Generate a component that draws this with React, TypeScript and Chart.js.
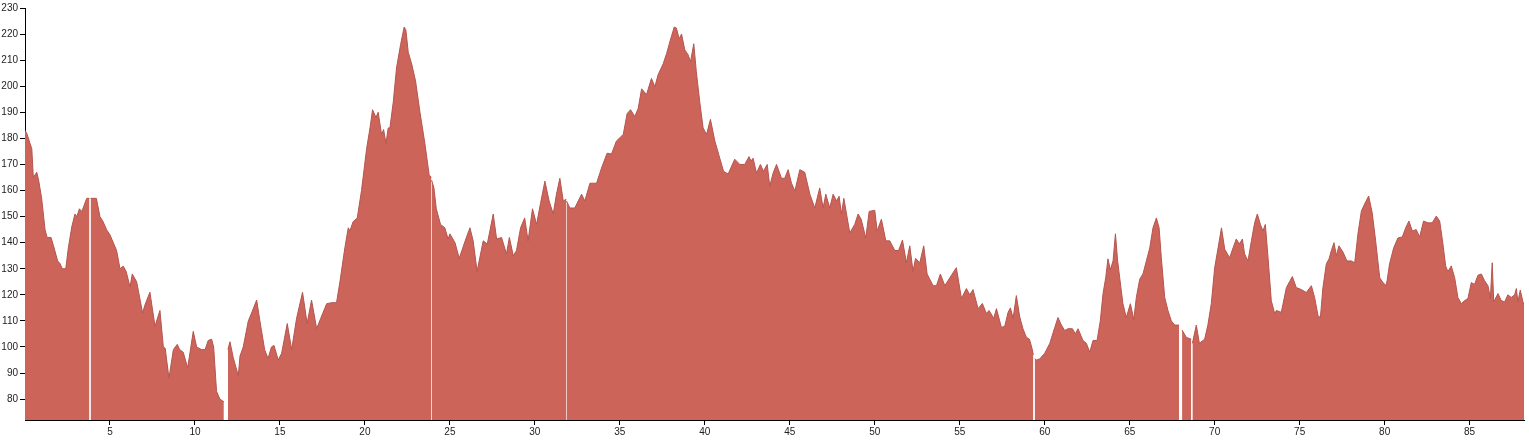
import React, { useEffect, useRef } from "react";
import { Chart, registerables } from "chart.js";

Chart.register(...registerables);

// Elevation profile, split into the recorded segments (gaps between them are data gaps)
const segment1: [number, number][] = [
  [0.0, 183], [0.1, 182], [0.3, 178], [0.4, 176], [0.49, 165], [0.69, 167], [0.8, 164], [0.98, 157],
  [1.18, 145], [1.3, 142], [1.53, 142], [1.67, 139], [1.92, 133], [2.06, 132], [2.2, 130], [2.4, 130],
  [2.55, 138], [2.75, 146], [2.94, 151], [3.05, 150], [3.2, 153], [3.35, 152], [3.63, 157], [3.79, 157],
];
const segment2: [number, number][] = [
  [3.86, 157], [4.2, 157], [4.41, 150], [4.6, 148], [4.8, 145], [5.0, 143], [5.39, 137], [5.59, 130],
  [5.78, 131], [5.95, 129], [6.18, 123], [6.31, 128], [6.57, 125], [6.92, 113], [7.05, 116], [7.35, 121],
  [7.65, 108], [7.94, 114], [8.14, 100], [8.25, 99.5], [8.47, 88], [8.73, 99], [8.96, 101], [9.1, 99],
  [9.31, 98], [9.57, 92], [9.9, 106], [10.1, 100], [10.39, 99], [10.6, 99], [10.78, 102.5], [10.98, 103],
  [11.1, 100], [11.27, 83], [11.47, 80], [11.7, 79],
];
const segment3: [number, number][] = [
  [11.94, 99], [12.06, 102], [12.25, 96], [12.55, 89], [12.65, 96.5], [12.84, 100], [13.14, 110],
  [13.33, 113], [13.63, 118], [13.82, 110], [14.1, 99], [14.3, 95.6], [14.5, 100], [14.65, 100.6],
  [14.9, 95], [15.1, 97.6], [15.43, 109], [15.69, 99], [15.98, 111], [16.33, 121], [16.6, 109],
  [16.86, 118], [17.16, 107], [17.4, 111], [17.75, 116.6], [18.04, 117], [18.33, 117], [18.53, 125],
  [18.82, 138], [19.02, 145.7], [19.12, 144.5], [19.3, 148], [19.55, 149.5], [19.8, 160], [20.1, 176],
  [20.3, 184], [20.45, 191], [20.65, 188], [20.78, 190], [20.98, 181.5], [21.1, 183.4], [21.24, 178],
  [21.37, 184], [21.47, 184], [21.67, 194], [21.86, 207], [22.1, 216], [22.31, 222.7], [22.41, 221.6],
  [22.55, 213], [22.75, 208.6], [22.98, 202], [23.24, 190], [23.53, 178], [23.78, 166], [23.91, 165],
];
const segment4: [number, number][] = [
  [23.925, 164], [24.06, 161], [24.2, 153], [24.45, 147], [24.7, 145.7], [24.9, 141.4], [25.0, 143.4],
  [25.3, 140], [25.55, 134], [25.9, 140.7], [26.18, 145.7], [26.37, 140.7], [26.6, 129], [26.96, 140.7],
  [27.2, 139.5], [27.55, 151], [27.75, 141.4], [28.04, 142], [28.33, 135.7], [28.5, 142], [28.73, 135],
  [28.92, 137], [29.16, 145.7], [29.4, 149.5], [29.6, 140.7], [29.86, 153], [30.1, 147], [30.33, 155],
  [30.59, 163.6], [30.84, 156], [31.08, 151], [31.27, 158.6], [31.47, 164.7], [31.67, 156], [31.85, 156.7],
];
const segment5: [number, number][] = [
  [31.86, 156], [32.06, 153.3], [32.35, 153.3], [32.75, 158.6], [32.94, 156], [33.24, 162.8],
  [33.63, 162.8], [33.92, 168.6], [34.25, 174.3], [34.51, 174], [34.8, 179], [35.2, 181.5], [35.43, 189.5],
  [35.63, 191], [35.88, 188.4], [36.08, 191.5], [36.28, 199], [36.57, 196.8], [36.86, 203], [37.06, 199.8],
  [37.25, 204.4], [37.55, 208.6], [37.75, 212.5], [37.94, 217], [38.2, 222.7], [38.33, 222.3],
  [38.49, 218.2], [38.63, 220], [38.82, 214], [39.02, 212], [39.16, 209.4], [39.35, 216.3], [39.5, 205.6],
  [39.7, 194], [39.9, 184], [40.1, 181.5], [40.33, 187.3], [40.59, 179], [40.88, 172.4], [41.1, 167.4],
  [41.37, 166.3], [41.76, 172], [42.06, 170], [42.35, 170], [42.6, 173], [42.72, 171.3], [42.84, 172.4],
  [43.04, 166.7], [43.27, 170], [43.45, 167.4], [43.67, 170], [43.82, 161.7], [44.02, 166.7], [44.22, 170],
  [44.51, 164.7], [44.7, 164.7], [44.9, 168], [45.1, 162.8], [45.3, 159.8], [45.59, 168], [45.88, 167],
  [46.18, 158.6], [46.47, 153.3], [46.76, 161], [46.96, 153.3], [47.12, 158.6], [47.35, 153.3],
  [47.55, 158.6], [47.75, 156], [47.9, 157.8], [48.04, 151], [48.18, 157], [48.53, 143.7], [48.82, 147],
  [49.02, 151], [49.2, 149], [49.47, 141.8], [49.67, 152], [50.0, 152.4], [50.14, 144.5], [50.39, 149],
  [50.65, 140.7], [50.88, 140.7], [51.18, 137], [51.4, 137], [51.63, 141], [51.86, 132.3], [52.06, 138.8],
  [52.25, 129], [52.4, 134], [52.65, 132.3], [52.88, 138.8], [53.08, 128], [53.43, 123.5], [53.63, 123.5],
  [53.86, 128], [54.12, 123.5], [54.51, 127.5], [54.8, 130.4], [55.1, 118.6], [55.39, 122.4], [55.59, 120],
  [55.78, 122], [56.08, 114.7], [56.33, 116.7], [56.57, 112.8], [56.72, 114], [57.0, 111], [57.16, 114.7],
  [57.45, 107.5], [57.65, 108], [57.84, 113.2], [57.98, 115], [58.14, 111], [58.33, 119.7], [58.53, 111.5],
  [58.72, 107], [58.92, 103.7], [59.1, 103], [59.25, 99.5], [59.33, 97],
];
const segment6: [number, number][] = [
  [59.41, 95.5], [59.51, 95], [59.7, 95.4], [60.0, 97.6], [60.3, 101.4], [60.59, 107.5], [60.78, 111.3],
  [60.98, 108.4], [61.18, 106.3], [61.37, 107], [61.63, 107], [61.8, 105], [61.96, 107], [62.25, 102.5],
  [62.45, 101.4], [62.65, 98], [62.84, 102.5], [63.08, 102.5], [63.27, 110], [63.43, 120.5], [63.59, 126.6],
  [63.72, 133.8], [63.86, 129.6], [64.02, 133], [64.16, 143.4], [64.29, 133], [64.41, 126.6], [64.6, 116.6],
  [64.8, 111.3], [65.04, 116.6], [65.24, 110.5], [65.39, 119], [65.59, 126], [65.78, 128], [65.98, 133],
  [66.18, 138], [66.37, 145.7], [66.57, 149.5], [66.73, 145.7], [66.86, 134.2], [67.06, 119], [67.25, 114],
  [67.45, 110], [67.65, 108.4], [67.9, 108.4],
];
const segment7: [number, number][] = [
  [68.08, 106.5], [68.33, 103.7], [68.62, 103],
];
const segment8: [number, number][] = [
  [68.69, 101.4], [68.92, 108.4], [69.1, 101.4], [69.41, 103], [69.6, 108.4], [69.8, 116.6], [70.0, 130.4],
  [70.2, 138], [70.4, 145.7], [70.59, 137.5], [70.88, 134.2], [71.08, 138], [71.27, 141.4], [71.45, 139.5],
  [71.63, 141.4], [71.76, 135.7], [71.96, 133], [72.16, 140.7], [72.35, 147.6], [72.51, 151], [72.69, 147],
  [72.84, 144.5], [72.98, 147], [73.14, 134.2], [73.33, 117.8], [73.53, 112.8], [73.63, 114], [73.92, 113.3],
  [74.22, 122.8], [74.57, 127], [74.8, 122.8], [75.1, 122], [75.39, 120.9], [75.69, 123.5], [75.88, 119],
  [76.08, 112], [76.22, 111.3], [76.37, 122.8], [76.57, 131.9], [76.73, 133.8], [76.86, 136.9], [77.02, 140],
  [77.16, 135], [77.31, 138.8], [77.55, 136.4], [77.78, 133], [78.04, 133], [78.24, 132.3], [78.43, 143.4],
  [78.63, 152.1], [78.82, 154.8], [79.06, 157.9], [79.27, 151.4], [79.47, 140.7], [79.71, 126.6],
  [79.9, 124.7], [80.1, 123.5], [80.29, 131.9], [80.53, 138], [80.78, 141.8], [81.04, 142.2], [81.24, 145.7],
  [81.43, 148.3], [81.63, 144.5], [81.86, 145], [82.06, 142.2], [82.29, 148.3], [82.55, 147.6], [82.8, 147.6],
  [83.04, 150.2], [83.24, 148.3], [83.43, 139.5], [83.59, 131.1], [83.72, 128.9], [83.92, 131.1],
  [84.12, 126.6], [84.31, 119], [84.51, 116.6], [84.71, 117.8], [84.9, 118.6], [85.1, 124.7], [85.29, 124],
  [85.49, 127.5], [85.69, 128], [85.88, 125.4], [86.08, 123.5], [86.22, 118.6], [86.33, 132.3],
  [86.42, 117.3], [86.67, 120.5], [86.86, 117.8], [87.06, 117.3], [87.25, 120], [87.45, 119], [87.65, 120],
  [87.75, 122.4], [87.84, 117.3], [87.98, 121.8], [88.14, 117.3], [88.2, 116],
];

const segments = [segment1, segment2, segment3, segment4, segment5, segment6, segment7, segment8];

const xTickValues = [5, 10, 15, 20, 25, 30, 35, 40, 45, 50, 55, 60, 65, 70, 75, 80, 85];
const yTickValues = [80, 90, 100, 110, 120, 130, 140, 150, 160, 170, 180, 190, 200, 210, 220, 230];
const xMin = 0;
const xMax = 88.2;
const yMin = 72;
const yMax = 230;

export default function App() {
  const canvasRef = useRef<HTMLCanvasElement | null>(null);

  useEffect(() => {
    if (!canvasRef.current) return;
    const points: { x: number; y: number | null }[] = [];
    segments.forEach((seg, i) => {
      if (i > 0) {
        const prev = segments[i - 1];
        const gapX = (prev[prev.length - 1][0] + seg[0][0]) / 2;
        points.push({ x: gapX, y: null });
      }
      seg.forEach(([x, y]) => points.push({ x, y }));
    });

    const axisFont = { family: "'Liberation Sans', Arial, sans-serif", size: 10 };

    const chart = new Chart(canvasRef.current, {
      type: "line",
      data: {
        datasets: [
          {
            data: points as any,
            parsing: false,
            fill: "start",
            backgroundColor: "rgb(205,100,90)",
            borderColor: "rgb(180,85,78)",
            borderWidth: 1,
            pointRadius: 0,
            tension: 0,
            spanGaps: false,
          },
        ],
      },
      options: {
        responsive: false,
        maintainAspectRatio: false,
        animation: false,
        layout: { padding: { top: 6, right: 5, left: 0, bottom: 0 } },
        plugins: { legend: { display: false }, tooltip: { enabled: false } },
        scales: {
          x: {
            type: "linear",
            min: xMin,
            max: xMax,
            afterBuildTicks: (scale: any) => {
              scale.ticks = xTickValues.map((v) => ({ value: v }));
            },
            afterFit: (scale: any) => {
              scale.height = 26;
            },
            ticks: {
              font: axisFont,
              color: "#222",
              padding: 1,
              maxRotation: 0,
              autoSkip: false,
              callback: (v: any) => String(v),
            },
            grid: {
              display: true,
              drawOnChartArea: false,
              drawTicks: true,
              tickLength: 5,
              color: "#000",
              lineWidth: 1,
            },
            border: { display: true, color: "#000", width: 1 },
          },
          y: {
            type: "linear",
            min: yMin,
            max: yMax,
            afterBuildTicks: (scale: any) => {
              scale.ticks = yTickValues.map((v) => ({ value: v }));
            },
            afterFit: (scale: any) => {
              scale.width = 25;
            },
            ticks: {
              font: axisFont,
              color: "#222",
              padding: 2,
              autoSkip: false,
              callback: (v: any) => String(v),
            },
            grid: {
              display: true,
              drawOnChartArea: false,
              drawTicks: true,
              tickLength: 5,
              color: "#000",
              lineWidth: 1,
            },
            border: { display: true, color: "#000", width: 1 },
          },
        },
      },
    });
    return () => chart.destroy();
  }, []);

  return (
    <div style={{ position: "absolute", left: 0, top: 0, width: 1529, height: 446, background: "#fff" }}>
      <canvas ref={canvasRef} width={1529} height={446} style={{ display: "block" }} />
    </div>
  );
}
